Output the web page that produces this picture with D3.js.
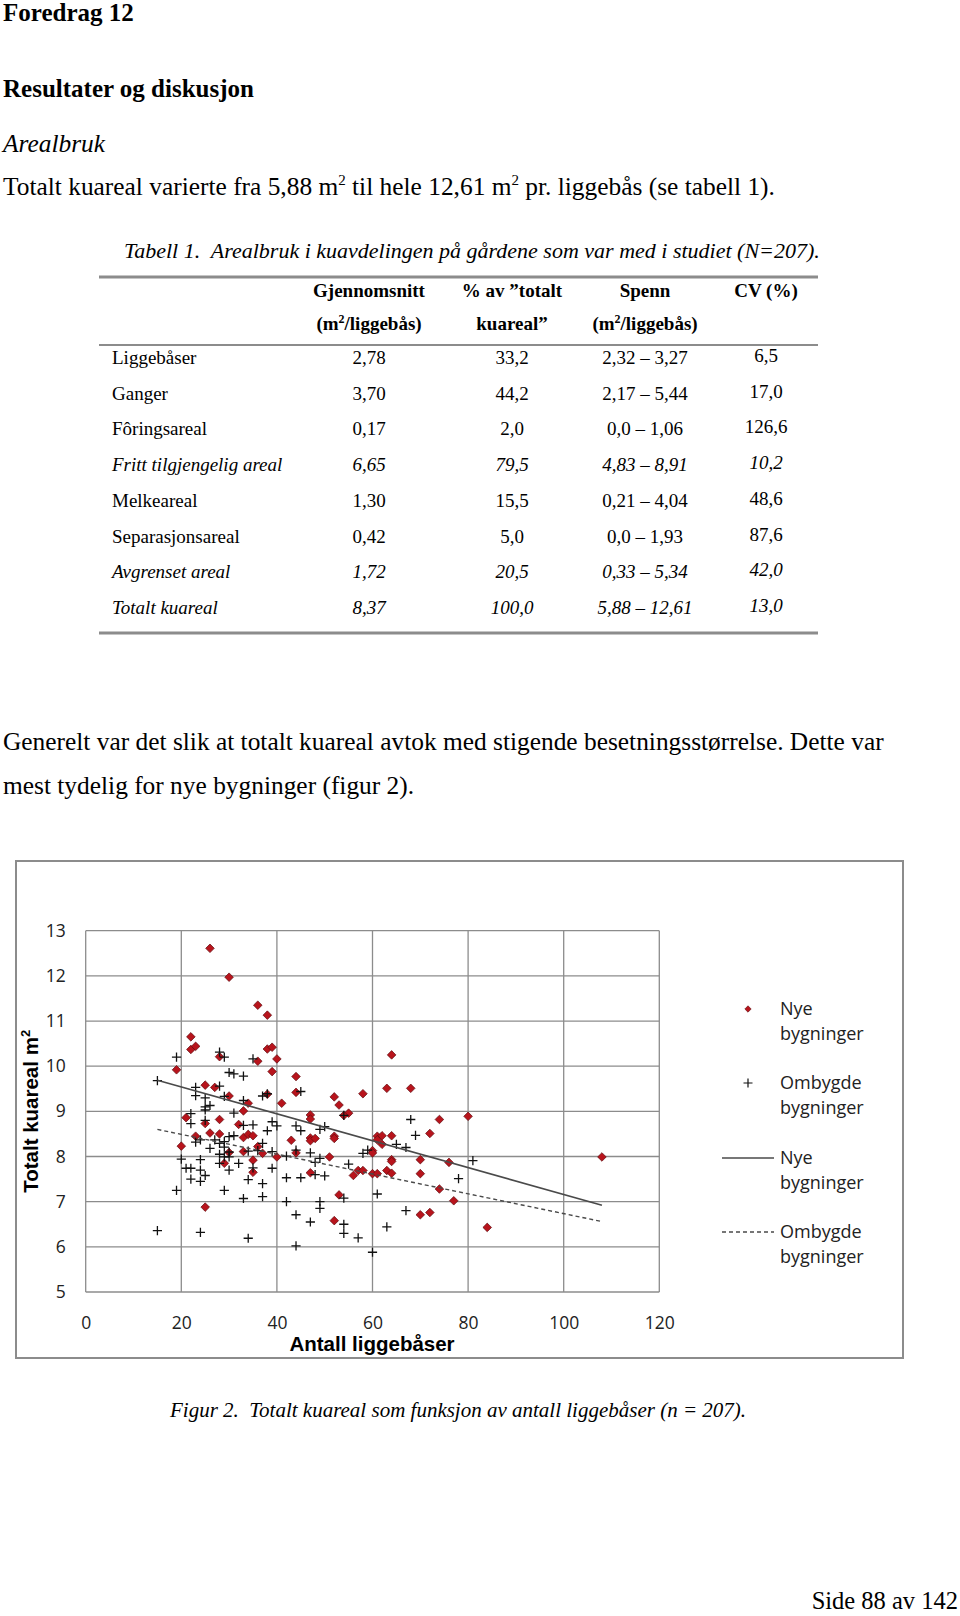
<!DOCTYPE html>
<html><head><meta charset="utf-8">
<script src="https://cdn.jsdelivr.net/npm/d3@7"></script>
<style>body{margin:0;background:#fff}svg{display:block}text{white-space:pre}</style>
</head><body>
<svg id="page" width="960" height="1616"></svg>
<script>
// ---------- DATA ----------
const nyeData = [
 [26,12.61],[30,11.97],[36,11.35],[38,11.13],[22,10.65],[22,10.37],[23,10.44],[38,10.38],[39,10.42],
 [28,10.21],[36,10.11],[40,10.16],[19,9.92],[39,9.88],[44,9.77],[64,10.25],[25,9.58],[27,9.53],
 [30,9.34],[38,9.38],[44,9.42],[41,9.18],[52,9.32],[53,9.14],[58,9.39],[63,9.51],[68,9.51],
 [34,9.18],[33,9.01],[55,8.96],[54,8.91],[21,8.86],[28,8.82],[25,8.73],[32,8.71],[47,8.92],
 [47,8.83],[20,8.23],[23,8.45],[26,8.52],[28,8.50],[33,8.42],[34,8.49],[35,8.46],[36,8.22],
 [30,8.09],[33,8.11],[35,7.92],[37,8.07],[29,7.85],[35,7.65],[25,6.88],[43,8.36],[44,8.08],
 [47,8.41],[47,8.35],[48,8.40],[47,7.64],[51,7.99],[52,8.45],[52,8.40],[53,7.15],[52,6.58],
 [40,7.99],[60,8.13],[60,8.08],[61,8.45],[61,8.37],[62,8.46],[62,8.27],[64,8.46],[64,7.93],
 [64,7.89],[56,7.58],[57,7.69],[58,7.69],[60,7.62],[61,7.62],[63,7.69],[64,7.63],[70,7.93],
 [70,7.62],[72,8.51],[74,8.82],[80,8.89],[76,7.87],[74,7.28],[77,7.02],[70,6.71],[72,6.76],
 [84,6.43],[108,7.99]
];
const ombygdeData = [
 [15,9.68],[19,10.2],[28,10.31],[29,10.2],[35,10.16],[30,9.86],[31,9.83],[33,9.78],[23,9.53],
 [23,9.35],[28,9.56],[29,9.33],[25,9.3],[33,9.24],[37,9.34],[38,9.39],[45,9.44],[25,9.1],
 [26,9.13],[25,9.03],[22,8.95],[31,8.96],[22,8.73],[25,8.8],[33,8.69],[35,8.7],[39,8.77],
 [40,8.68],[38,8.57],[44,8.68],[45,8.57],[49,8.6],[50,8.66],[54,8.91],[68,8.82],[69,8.47],
 [65,8.27],[67,8.2],[58,8.07],[59,8.14],[81,7.91],[78,7.51],[23,8.32],[24,8.37],[26,8.18],
 [27,8.37],[28,8.29],[29,8.21],[30,8.44],[31,8.46],[29,7.99],[30,7.99],[28,7.85],[30,7.7],
 [32,7.85],[34,8.12],[36,8.13],[37,8.29],[39,8.11],[42,8.01],[44,8.14],[47,8.08],[48,7.87],
 [49,7.96],[55,7.83],[20,7.94],[21,7.74],[22,7.74],[24,7.93],[24,7.7],[25,7.58],[24,7.45],
 [22,7.5],[34,7.49],[35,7.75],[39,7.74],[37,7.4],[42,7.53],[45,7.53],[48,7.6],[50,7.57],
 [19,7.25],[29,7.25],[33,7.07],[37,7.11],[42,7.0],[49,7.0],[49,6.85],[54,7.08],[61,7.17],
 [44,6.71],[47,6.55],[15,6.36],[24,6.32],[34,6.19],[54,6.5],[54,6.3],[57,6.2],[63,6.44],
 [67,6.8],[44,6.02],[60,5.88],[29,8.33],[30,8.1],[28,8.05]
];
const trendNye = [[15,9.69],[108,6.92]];
const trendOmbygde = [[15,8.60],[108,6.56]];
const xTicks = [0,20,40,60,80,100,120];
const yTicks = [5,6,7,8,9,10,11,12,13];
const legendLabels = [["Nye","bygninger"],["Ombygde","bygninger"],["Nye","bygninger"],["Ombygde","bygninger"]];

const tableRows = ["Liggebåser","Ganger","Fôringsareal","Fritt tilgjengelig areal","Melkeareal","Separasjonsareal","Avgrenset areal","Totalt kuareal"];
const tableMean = ["2,78","3,70","0,17","6,65","1,30","0,42","1,72","8,37"];
const tablePct = ["33,2","44,2","2,0","79,5","15,5","5,0","20,5","100,0"];
const tableRange = ["2,32 – 3,27","2,17 – 5,44","0,0 – 1,06","4,83 – 8,91","0,21 – 4,04","0,0 – 1,93","0,33 – 5,34","5,88 – 12,61"];
const tableCV = ["6,5","17,0","126,6","10,2","48,6","87,6","42,0","13,0"];
const tableItalic = [false,false,false,true,false,false,true,true];

// ---------- PAGE TEXT ----------
const svg = d3.select("#page");
const serif = "'Liberation Serif','Times New Roman',serif";
const bodySize = 25.4;
function txt(x,y,s,opt={}){
  return svg.append("text").attr("x",x).attr("y",y)
    .attr("font-family",opt.family||serif).attr("font-size",opt.size||bodySize)
    .attr("font-weight",opt.bold?"bold":"normal").attr("font-style",opt.italic?"italic":"normal")
    .attr("text-anchor",opt.anchor||"start").attr("fill","#000").text(s);
}
txt(3,21,"Foredrag 12",{bold:true,size:25});
txt(3,97,"Resultater og diskusjon",{bold:true,size:25});
txt(3,152,"Arealbruk",{italic:true});
const p1 = txt(3,195,"");
p1.append("tspan").text("Totalt kuareal varierte fra 5,88 m");
p1.append("tspan").attr("font-size",15).attr("dy",-10).text("2");
p1.append("tspan").attr("dy",10).text(" til hele 12,61 m");
p1.append("tspan").attr("font-size",15).attr("dy",-10).text("2");
p1.append("tspan").attr("dy",10).text(" pr. liggebås (se tabell 1).");
txt(124,258,"Tabell 1.  Arealbruk i kuavdelingen på gårdene som var med i studiet (N=207).",{italic:true,size:22});

// table
const colX = [369,512,645,766];
svg.append("line").attr("x1",99).attr("x2",818).attr("y1",277).attr("y2",277).attr("stroke","#8c8c8c").attr("stroke-width",3);
svg.append("line").attr("x1",99).attr("x2",818).attr("y1",345).attr("y2",345).attr("stroke","#8c8c8c").attr("stroke-width",2);
svg.append("line").attr("x1",99).attr("x2",818).attr("y1",633).attr("y2",633).attr("stroke","#8c8c8c").attr("stroke-width",3);
const hdr1 = ["Gjennomsnitt","% av ”totalt","Spenn","CV (%)"];
hdr1.forEach((h,i)=>txt(colX[i],297,h,{bold:true,size:19,anchor:"middle"}));
[[0,"(m","/liggebås)"],[2,"(m","/liggebås)"]].forEach(([i,a,b])=>{
  const t = txt(colX[i],330,"",{bold:true,size:19,anchor:"middle"});
  t.append("tspan").text(a);
  t.append("tspan").attr("font-size",12).attr("dy",-7).text("2");
  t.append("tspan").attr("dy",7).text(b);
});
txt(colX[1],330,"kuareal”",{bold:true,size:19,anchor:"middle"});
const rowY = d3.scaleLinear().domain([0,7]).range([364,614]);
tableRows.forEach((r,i)=>{
  const it = tableItalic[i], y = rowY(i);
  txt(112,y,r,{size:19,italic:it});
  txt(colX[0],y,tableMean[i],{size:19,italic:it,anchor:"middle"});
  txt(colX[1],y,tablePct[i],{size:19,italic:it,anchor:"middle"});
  txt(colX[2],y,tableRange[i],{size:19,italic:it,anchor:"middle"});
  txt(colX[3],y-2,tableCV[i],{size:19,italic:it,anchor:"middle"});
});

txt(3,750,"Generelt var det slik at totalt kuareal avtok med stigende besetningsstørrelse. Dette var");
txt(3,794,"mest tydelig for nye bygninger (figur 2).");
txt(170,1417,"Figur 2.  Totalt kuareal som funksjon av antall liggebåser (n = 207).",{italic:true,size:21});
txt(958,1609,"Side 88 av 142",{anchor:"end",size:24.5});

// ---------- CHART ----------
const sans = "'Open Sans','DejaVu Sans',sans-serif";
svg.append("rect").attr("x",16).attr("y",861).attr("width",887).attr("height",497)
  .attr("fill","#fff").attr("stroke","#8c8c8c").attr("stroke-width",2);

const x = d3.scaleLinear().domain([0,120]).range([85.7,659.3]);
const y = d3.scaleLinear().domain([5,13]).range([1292,930.7]);
const g = svg.append("g");

// grid
g.selectAll(".hg").data(yTicks).join("line")
  .attr("x1",x(0)).attr("x2",x(120)).attr("y1",d=>y(d)).attr("y2",d=>y(d))
  .attr("stroke","#8c8c8c").attr("stroke-width",1.3);
g.selectAll(".vg").data(xTicks).join("line")
  .attr("y1",y(5)).attr("y2",y(13)).attr("x1",d=>x(d)).attr("x2",d=>x(d))
  .attr("stroke","#8c8c8c").attr("stroke-width",1.3);

// axes labels via d3 axes
const yAxis = svg.append("g").attr("transform",`translate(${x(0)},0)`)
  .call(d3.axisLeft(y).tickValues(yTicks).tickSize(0).tickPadding(20).tickFormat(d3.format("d")));
const xAxis = svg.append("g").attr("transform",`translate(0,${y(5)})`)
  .call(d3.axisBottom(x).tickValues(xTicks).tickSize(0).tickPadding(25).tickFormat(d3.format("d")));
[yAxis,xAxis].forEach(a=>{
  a.select(".domain").remove();
  a.selectAll("text").attr("font-family",sans).attr("font-size",17.5).attr("fill","#222");
});

// axis titles
svg.append("text").attr("x",372).attr("y",1351).attr("text-anchor","middle")
  .attr("font-family","'Liberation Sans',Arial,sans-serif").attr("font-weight","bold").attr("font-size",20.5)
  .text("Antall liggebåser");
const yt = svg.append("text").attr("transform",`translate(38,${(y(5)+y(13))/2}) rotate(-90)`)
  .attr("text-anchor","middle").attr("font-family","'Liberation Sans',Arial,sans-serif")
  .attr("font-weight","bold").attr("font-size",20.5);
yt.append("tspan").text("Totalt kuareal m");
yt.append("tspan").attr("font-size",13).attr("dy",-8).text("2");

// markers
const diamond = s => `M0,${-s}L${s},0L0,${s}L${-s},0Z`;
const plus = s => `M${-s},0H${s}M0,${-s}V${s}`;
g.selectAll(".nye").data(nyeData).join("path")
  .attr("transform",d=>`translate(${x(d[0])},${y(d[1])})`)
  .attr("d",diamond(4.3)).attr("fill","#b8141c").attr("stroke","#5e0a0e").attr("stroke-width",0.7);
g.selectAll(".omb").data(ombygdeData).join("path")
  .attr("transform",d=>`translate(${x(d[0])},${y(d[1])})`)
  .attr("d",plus(4.6)).attr("fill","none").attr("stroke","#111").attr("stroke-width",1.3);

// trend lines
const line = d3.line().x(d=>x(d[0])).y(d=>y(d[1]));
g.append("path").attr("d",line(trendNye)).attr("fill","none").attr("stroke","#4a4a4a").attr("stroke-width",1.6);
g.append("path").attr("d",line(trendOmbygde)).attr("fill","none").attr("stroke","#4a4a4a")
  .attr("stroke-width",1.4).attr("stroke-dasharray","4,3");

// legend
const legY = [1009,1083,1158,1232];
const lg = svg.append("g");
legendLabels.forEach((lab,i)=>{
  const t = lg.append("text").attr("x",780).attr("y",legY[i]+6).attr("font-family",sans)
    .attr("font-size",18).attr("fill","#222");
  t.append("tspan").attr("x",780).text(lab[0]);
  t.append("tspan").attr("x",780).attr("dy",25).text(lab[1]);
});
lg.append("path").attr("transform",`translate(748,${legY[0]})`).attr("d",diamond(3.2))
  .attr("fill","#b8141c").attr("stroke","#5e0a0e").attr("stroke-width",0.6);
lg.append("path").attr("transform",`translate(748,${legY[1]})`).attr("d",plus(4.5))
  .attr("stroke","#111").attr("stroke-width",1.2);
lg.append("line").attr("x1",722).attr("x2",774).attr("y1",legY[2]).attr("y2",legY[2])
  .attr("stroke","#4a4a4a").attr("stroke-width",1.5);
lg.append("line").attr("x1",722).attr("x2",774).attr("y1",legY[3]).attr("y2",legY[3])
  .attr("stroke","#4a4a4a").attr("stroke-width",1.4).attr("stroke-dasharray","4,3");
</script>
</body></html>
